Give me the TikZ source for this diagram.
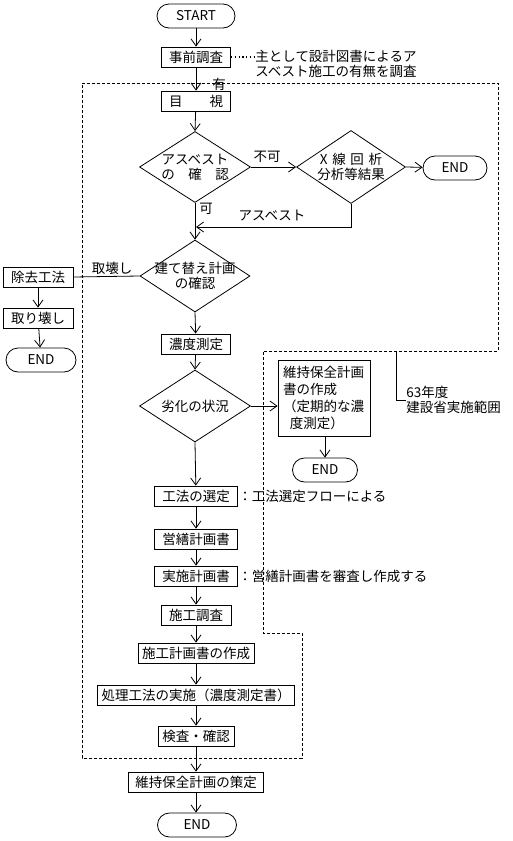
\documentclass[tikz,border=0pt]{standalone}
\usepackage{fontspec}
\setmainfont{Noto Sans CJK JP}
\usepackage{tikz}
\usetikzlibrary{shapes}
\usetikzlibrary{arrows.meta}
\newcommand{\flowfont}{\fontsize{13.5}{15}\selectfont}

\begin{document}
\begin{tikzpicture}[x=1pt,y=-1pt,line width=0.8pt,font=\flowfont,
  box/.style={draw, rectangle, minimum height=20pt, inner sep=2pt},
  term/.style={draw, rounded corners=12pt, minimum height=24pt, inner sep=2pt},
  dia/.style={draw, diamond, inner sep=0pt},
  arr/.style={-{Straight Barb[length=7pt,width=10pt]}},
  note/.style={inner sep=0pt},
  region/.style={dash pattern=on 3pt off 2pt}]
\useasboundingbox (0,0) rectangle (512,841);

% main column
\node[term, minimum width=78pt] (start) at (196,16) {START};
\node[box, minimum width=69pt] (pre) at (196,57) {事前調査};
\node[box, minimum width=69pt] (visual) at (196,101) {目　　視};
\node[dia, minimum width=111pt, minimum height=71pt,
  label={[align=center]center:{アスベスト\\の　確　認}}] (asb) at (195,167) {};
\node[dia, minimum width=109pt, minimum height=73pt,
  label={[align=center]center:{X\hspace{0.35em}線\hspace{0.35em}回\hspace{0.35em}析\\分析等結果}}] (xray) at (351,167) {};
\node[term, minimum width=64pt] (endA) at (455,168) {END};
\coordinate (merge) at (196,227);
\node[dia, minimum width=110pt, minimum height=72pt,
  label={[align=center]center:{建て替え計画\\の確認}}] (rebuild) at (195,276) {};
\node[box, minimum width=70pt] (remove) at (38,277) {除去工法};
\node[box, minimum width=70pt] (demolish) at (38,318) {取り壊し};
\node[term, minimum width=70pt] (endB) at (41,360) {END};
\node[box, minimum width=69pt] (conc) at (196,344) {濃度測定};
\node[dia, minimum width=111pt, minimum height=72pt,
  label={center:劣化の状況}] (decay) at (195,406) {};
\node[draw, rectangle, minimum width=92pt, minimum height=76pt, inner sep=0pt,
  text width=82pt, align=left, font=\fontsize{13.5}{17}\selectfont] (maint) at (324,398)
  {維持保全計画\\書の作成\\（定期的な濃\\\hspace{0.5em}度測定）};
\node[term, minimum width=65pt] (endC) at (325,470) {END};
\node[box, minimum width=83pt] (select) at (196,496) {工法の選定};
\node[box, minimum width=83pt] (eizen) at (196,539) {営繕計画書};
\node[box, minimum width=83pt] (jisshi) at (196,576) {実施計画書};
\node[box, minimum width=70pt] (survey) at (196,615) {施工調査};
\node[box, minimum width=116pt] (sakusei) at (196,653) {施工計画書の作成};
\node[box, minimum width=197pt] (shori) at (196,695) {処理工法の実施（濃度測定書）};
\node[box, minimum width=76pt] (kensa) at (196,736) {検査・確認};
\node[box, minimum width=135pt] (plan) at (196,782) {維持保全計画の策定};
\node[term, minimum width=79pt] (endD) at (197,825) {END};

% labels and notes
\node[note, anchor=west, align=left] (prenote) at (255,64)
  {主として設計図書によるア\\スベスト施工の有無を調査};
\node[note, fill=white, inner sep=0.5pt] (yes) at (219,84) {有};
\node[note] (ng) at (267,157) {不可};
\node[note] (ok) at (206,209) {可};
\node[note] (asbret) at (272,216) {アスベスト};
\node[note] (teardown) at (112,268) {取壊し};
\node[note, anchor=west] (selnote) at (select.east) {：工法選定フローによる};
\node[note, anchor=west] (jnote) at (jisshi.east) {：営繕計画書を審査し作成する};
\node[note, anchor=west, align=left] (rangenote) at (406,400) {63年度\\建設省実施範囲};

% scope of the survey
\draw[region] (82,83) -- (498,83) -- (498,351) -- (263,351) -- (263,633)
  -- (302,633) -- (302,758) -- (82,758) -- cycle;
\coordinate (rangetop) at (396,351);
\draw (rangetop) |- (rangenote.west);

% connectors
\draw[line width=1.2pt, dash pattern=on 1.2pt off 2.6pt] (pre.east) -- (pre.east -| prenote.west);
\draw[arr] (start) -- (pre);
\draw[arr] (pre) -- (visual);
\draw[arr] (visual) -- (asb.north);
\draw[arr] (asb.east) -- (xray.west);
\draw[arr] (xray.east) -- (endA);
\draw[arr] (xray.south) |- (merge);
\draw[arr] (asb.south) -- (rebuild.north);
\draw (rebuild.west) -- (remove.east);
\draw[arr] (remove) -- (demolish);
\draw[arr] (demolish) -- (endB);
\draw[arr] (rebuild.south) -- (conc);
\draw[arr] (conc) -- (decay.north);
\draw[arr] (decay.east) -- (maint.west |- decay.east);
\draw[arr] (maint.south -| endC) -- (endC);
\draw[arr] (decay.south) -- (select);
\draw[arr] (select) -- (eizen);
\draw[arr] (eizen) -- (jisshi);
\draw[arr] (jisshi) -- (survey);
\draw[arr] (survey) -- (sakusei);
\draw[arr] (sakusei) -- (shori);
\draw[arr] (shori) -- (kensa);
\draw[arr] (kensa) -- (plan);
\draw[arr] (plan) -- (plan |- endD.north);
\end{tikzpicture}
\end{document}
